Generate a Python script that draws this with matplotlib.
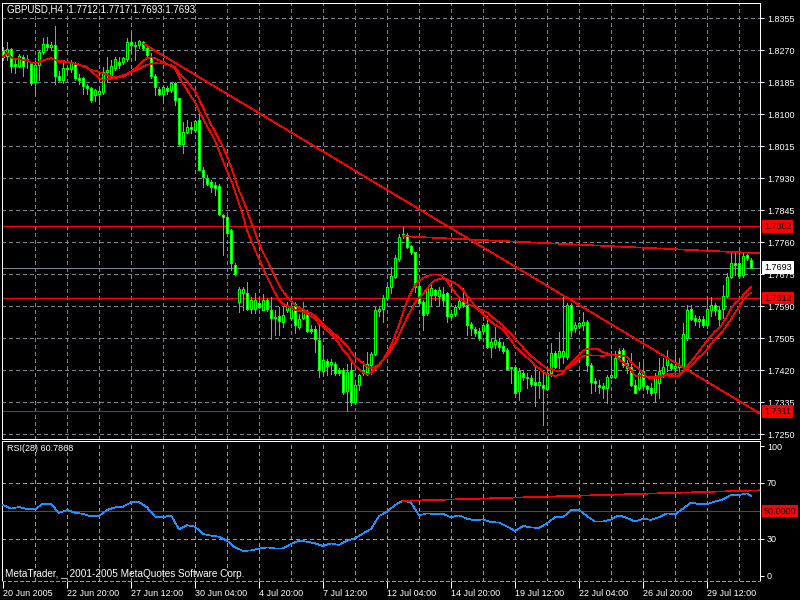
"""
GBPUSD H4 candlestick chart with moving averages, trendlines and RSI(28),
redrawn in the MetaTrader "green on black" style.
"""

import numpy as np
import pandas as pd
import matplotlib
matplotlib.use("Agg")
import matplotlib.pyplot as plt

plt.rcParams["font.family"] = ["Liberation Sans", "DejaVu Sans"]

# --- Data ------------------------------------------------------------------

OPEN = [
    1.8267, 1.8256, 1.8274, 1.8234, 1.8229, 1.8253, 1.8248, 1.8233, 1.8185, 1.8230,
    1.8265, 1.8288, 1.8280, 1.8285, 1.8203, 1.8192, 1.8224, 1.8220, 1.8235, 1.8197,
    1.8197, 1.8176, 1.8169, 1.8151, 1.8153, 1.8160, 1.8213, 1.8205, 1.8224, 1.8240,
    1.8238, 1.8247, 1.8291, 1.8285, 1.8283, 1.8293, 1.8275, 1.8253, 1.8203, 1.8168,
    1.8155, 1.8170, 1.8165, 1.8183, 1.8143, 1.8020, 1.8054, 1.8066, 1.8057, 1.8084,
    1.7951, 1.7930, 1.7920, 1.7911, 1.7909, 1.7832, 1.7826, 1.7792, 1.7701, 1.7602,
    1.7624, 1.7624, 1.7584, 1.7582, 1.7600, 1.7581, 1.7608, 1.7581, 1.7562, 1.7564,
    1.7548, 1.7581, 1.7560, 1.7597, 1.7535, 1.7560, 1.7578, 1.7531, 1.7531, 1.7500,
    1.7418, 1.7444, 1.7436, 1.7438, 1.7420, 1.7420, 1.7366, 1.7420, 1.7336, 1.7380,
    1.7413, 1.7416, 1.7433, 1.7463, 1.7578, 1.7582, 1.7611, 1.7640, 1.7667, 1.7715,
    1.7778, 1.7779, 1.7750, 1.7733, 1.7644, 1.7602, 1.7571, 1.7620, 1.7632, 1.7617,
    1.7623, 1.7625, 1.7563, 1.7570, 1.7587, 1.7602, 1.7594, 1.7543, 1.7529, 1.7525,
    1.7525, 1.7543, 1.7481, 1.7490, 1.7496, 1.7485, 1.7474, 1.7428, 1.7430, 1.7364,
    1.7414, 1.7403, 1.7399, 1.7390, 1.7381, 1.7381, 1.7370, 1.7412, 1.7465, 1.7456,
    1.7458, 1.7456, 1.7594, 1.7532, 1.7538, 1.7540, 1.7549, 1.7434, 1.7392, 1.7380,
    1.7377, 1.7372, 1.7403, 1.7403, 1.7472, 1.7474, 1.7439, 1.7430, 1.7381, 1.7372,
    1.7417, 1.7377, 1.7372, 1.7363, 1.7386, 1.7414, 1.7434, 1.7437, 1.7425, 1.7430,
    1.7430, 1.7505, 1.7582, 1.7558, 1.7551, 1.7556, 1.7540, 1.7579, 1.7594, 1.7580,
    1.7582, 1.7617, 1.7669, 1.7704, 1.7706, 1.7673, 1.7726, 1.7712,
]
HIGH = [
    1.8280, 1.8291, 1.8277, 1.8249, 1.8260, 1.8258, 1.8258, 1.8240, 1.8235, 1.8270,
    1.8302, 1.8306, 1.8293, 1.8335, 1.8216, 1.8237, 1.8230, 1.8243, 1.8238, 1.8208,
    1.8198, 1.8180, 1.8172, 1.8168, 1.8175, 1.8226, 1.8253, 1.8244, 1.8253, 1.8253,
    1.8253, 1.8302, 1.8318, 1.8293, 1.8297, 1.8295, 1.8280, 1.8262, 1.8207, 1.8172,
    1.8177, 1.8175, 1.8187, 1.8187, 1.8143, 1.8080, 1.8085, 1.8080, 1.8086, 1.8106,
    1.7960, 1.7938, 1.7925, 1.7920, 1.7914, 1.7836, 1.7832, 1.7794, 1.7704, 1.7642,
    1.7641, 1.7655, 1.7615, 1.7624, 1.7613, 1.7622, 1.7613, 1.7615, 1.7581, 1.7588,
    1.7588, 1.7601, 1.7613, 1.7602, 1.7570, 1.7602, 1.7581, 1.7540, 1.7537, 1.7540,
    1.7480, 1.7451, 1.7451, 1.7442, 1.7427, 1.7425, 1.7438, 1.7442, 1.7385, 1.7411,
    1.7446, 1.7469, 1.7469, 1.7588, 1.7591, 1.7620, 1.7647, 1.7695, 1.7726, 1.7782,
    1.7800, 1.7786, 1.7753, 1.7735, 1.7647, 1.7607, 1.7642, 1.7647, 1.7635, 1.7642,
    1.7642, 1.7629, 1.7574, 1.7593, 1.7609, 1.7638, 1.7620, 1.7549, 1.7536, 1.7532,
    1.7545, 1.7563, 1.7505, 1.7536, 1.7505, 1.7496, 1.7479, 1.7430, 1.7434, 1.7425,
    1.7421, 1.7412, 1.7408, 1.7430, 1.7417, 1.7412, 1.7430, 1.7492, 1.7470, 1.7523,
    1.7620, 1.7598, 1.7598, 1.7549, 1.7549, 1.7576, 1.7554, 1.7439, 1.7399, 1.7394,
    1.7386, 1.7408, 1.7470, 1.7470, 1.7479, 1.7479, 1.7448, 1.7465, 1.7394, 1.7443,
    1.7439, 1.7381, 1.7385, 1.7412, 1.7452, 1.7452, 1.7474, 1.7439, 1.7474, 1.7452,
    1.7545, 1.7594, 1.7594, 1.7567, 1.7563, 1.7563, 1.7611, 1.7614, 1.7598, 1.7591,
    1.7647, 1.7678, 1.7731, 1.7731, 1.7731, 1.7731, 1.7731, 1.7717,
]
LOW = [
    1.8244, 1.8244, 1.8213, 1.8209, 1.8226, 1.8203, 1.8222, 1.8178, 1.8156, 1.8190,
    1.8261, 1.8271, 1.8271, 1.8180, 1.8187, 1.8183, 1.8211, 1.8212, 1.8191, 1.8181,
    1.8155, 1.8155, 1.8132, 1.8136, 1.8127, 1.8155, 1.8187, 1.8200, 1.8218, 1.8222,
    1.8233, 1.8242, 1.8266, 1.8244, 1.8275, 1.8271, 1.8253, 1.8196, 1.8152, 1.8151,
    1.8133, 1.8155, 1.8160, 1.8125, 1.8018, 1.7996, 1.8050, 1.8050, 1.8053, 1.7951,
    1.7907, 1.7912, 1.7894, 1.7885, 1.7832, 1.7726, 1.7779, 1.7686, 1.7672, 1.7575,
    1.7580, 1.7580, 1.7572, 1.7571, 1.7585, 1.7579, 1.7578, 1.7504, 1.7513, 1.7513,
    1.7535, 1.7575, 1.7555, 1.7518, 1.7531, 1.7555, 1.7522, 1.7518, 1.7469, 1.7403,
    1.7407, 1.7407, 1.7411, 1.7407, 1.7407, 1.7358, 1.7313, 1.7327, 1.7332, 1.7367,
    1.7407, 1.7407, 1.7411, 1.7460, 1.7563, 1.7549, 1.7607, 1.7625, 1.7664, 1.7709,
    1.7771, 1.7744, 1.7729, 1.7629, 1.7596, 1.7527, 1.7567, 1.7591, 1.7607, 1.7594,
    1.7594, 1.7549, 1.7559, 1.7565, 1.7582, 1.7589, 1.7514, 1.7514, 1.7510, 1.7501,
    1.7518, 1.7478, 1.7456, 1.7479, 1.7474, 1.7465, 1.7421, 1.7386, 1.7359, 1.7341,
    1.7394, 1.7372, 1.7377, 1.7324, 1.7346, 1.7275, 1.7368, 1.7405, 1.7425, 1.7425,
    1.7440, 1.7450, 1.7510, 1.7523, 1.7532, 1.7527, 1.7417, 1.7359, 1.7366, 1.7359,
    1.7346, 1.7333, 1.7399, 1.7399, 1.7449, 1.7430, 1.7412, 1.7377, 1.7359, 1.7368,
    1.7372, 1.7359, 1.7355, 1.7337, 1.7346, 1.7403, 1.7417, 1.7421, 1.7417, 1.7408,
    1.7425, 1.7501, 1.7554, 1.7540, 1.7536, 1.7536, 1.7532, 1.7563, 1.7567, 1.7540,
    1.7558, 1.7614, 1.7664, 1.7673, 1.7667, 1.7669, 1.7713, 1.7693,
]
CLOSE = [
    1.8251, 1.8274, 1.8229, 1.8228, 1.8256, 1.8227, 1.8244, 1.8182, 1.8230, 1.8265,
    1.8288, 1.8280, 1.8285, 1.8203, 1.8192, 1.8224, 1.8220, 1.8235, 1.8197, 1.8190,
    1.8176, 1.8169, 1.8139, 1.8165, 1.8162, 1.8213, 1.8218, 1.8227, 1.8247, 1.8231,
    1.8249, 1.8291, 1.8284, 1.8282, 1.8295, 1.8275, 1.8258, 1.8203, 1.8172, 1.8153,
    1.8173, 1.8161, 1.8183, 1.8138, 1.8020, 1.8054, 1.8067, 1.8060, 1.8082, 1.7951,
    1.7934, 1.7916, 1.7907, 1.7903, 1.7834, 1.7827, 1.7785, 1.7704, 1.7675, 1.7637,
    1.7637, 1.7584, 1.7608, 1.7608, 1.7589, 1.7606, 1.7584, 1.7560, 1.7558, 1.7551,
    1.7566, 1.7592, 1.7592, 1.7540, 1.7557, 1.7580, 1.7525, 1.7525, 1.7502, 1.7420,
    1.7447, 1.7431, 1.7442, 1.7413, 1.7414, 1.7363, 1.7416, 1.7336, 1.7380, 1.7407,
    1.7420, 1.7438, 1.7462, 1.7579, 1.7582, 1.7611, 1.7642, 1.7671, 1.7717, 1.7775,
    1.7782, 1.7747, 1.7733, 1.7642, 1.7600, 1.7567, 1.7638, 1.7638, 1.7620, 1.7633,
    1.7607, 1.7563, 1.7570, 1.7587, 1.7605, 1.7594, 1.7541, 1.7532, 1.7520, 1.7505,
    1.7540, 1.7481, 1.7494, 1.7501, 1.7481, 1.7472, 1.7423, 1.7425, 1.7361, 1.7417,
    1.7402, 1.7399, 1.7384, 1.7381, 1.7390, 1.7372, 1.7412, 1.7465, 1.7430, 1.7470,
    1.7470, 1.7594, 1.7527, 1.7540, 1.7545, 1.7549, 1.7434, 1.7390, 1.7386, 1.7375,
    1.7372, 1.7403, 1.7408, 1.7452, 1.7456, 1.7434, 1.7425, 1.7381, 1.7361, 1.7412,
    1.7379, 1.7370, 1.7361, 1.7403, 1.7417, 1.7430, 1.7456, 1.7425, 1.7432, 1.7434,
    1.7517, 1.7580, 1.7556, 1.7551, 1.7556, 1.7540, 1.7582, 1.7594, 1.7580, 1.7556,
    1.7617, 1.7667, 1.7706, 1.7700, 1.7671, 1.7724, 1.7717, 1.7693,
]

# RSI(28), read every second bar, plus the last bar
RSI_EVERY_2 = [
    54.3, 51.7, 52.9, 51.4, 51.2, 55.2, 55.0, 48.6, 50.7, 48.8,
    47.9, 46.2, 46.4, 50.7, 52.6, 53.1, 56.2, 56.4, 52.6, 46.0,
    45.5, 46.9, 36.9, 39.8, 38.8, 33.6, 32.4, 31.7, 28.8, 24.0,
    21.5, 21.8, 23.1, 24.0, 23.3, 23.3, 26.4, 28.8, 28.1, 26.9,
    25.0, 26.9, 25.7, 28.8, 30.5, 34.0, 37.1, 46.4, 49.5, 54.3,
    57.4, 56.0, 46.9, 48.3, 47.9, 47.9, 45.5, 46.9, 44.5, 43.3,
    44.0, 42.1, 41.7, 39.0, 35.7, 39.3, 38.3, 37.9, 41.2, 45.5,
    45.5, 50.7, 50.7, 46.4, 42.4, 42.4, 44.0, 46.9, 45.0, 42.4,
    44.5, 43.6, 45.5, 48.3, 47.6, 51.7, 56.0, 55.0, 55.0, 56.7,
    58.3, 61.4, 61.4, 62.6,
]
RSI_LAST = 60.7868

MA_FAST = 13
MA_SLOW = 16

PRICE_TICKS = [1.8355, 1.8270, 1.8185, 1.8100, 1.8015, 1.7930, 1.7845,
               1.7760, 1.7675, 1.7590, 1.7505, 1.7420, 1.7335, 1.7250]
DATE_LABELS = ["20 Jun 2005", "22 Jun 20:00", "27 Jun 12:00", "30 Jun 04:00",
               "4 Jul 20:00", "7 Jul 12:00", "12 Jul 04:00", "14 Jul 20:00",
               "19 Jul 12:00", "22 Jul 04:00", "26 Jul 20:00", "29 Jul 12:00"]
BARS_PER_LABEL = 16

LEVELS = [1.7802, 1.7612, 1.7311]
BID = 1.7693

# trendlines: two anchor points (bar, value), drawn as rays to the right
TREND_DOWN = [(35, 1.8288), (140, 1.7619)]
TREND_TOP = [(100, 1.7776), (185, 1.7733)]
TREND_RSI = [(100, 57.2), (186, 64.5)]

# --- Style -----------------------------------------------------------------

LIME = "#00ff00"
RED = "#ff0000"
GRID = "#778899"
RSI_GRID = "#9a9aa0"
RSI_BLUE = "#1e90ff"
PX = 0.72          # one pixel in points at 100 dpi
THIN = 0.5         # for aliased diagonal / curved lines
DASH = (0, (4, 4))
FS = 6.5


def ray(ax, pts, xmax, **kw):
    (x0, y0), (x1, y1) = pts
    yend = y0 + (y1 - y0) / (x1 - x0) * (xmax - x0)
    ax.plot([x0, xmax], [y0, yend], **kw)


def axis_tag(ax, y, text, fc, tc):
    ax.text(1.0 + 4 / 758, y, text, transform=ax.get_yaxis_transform(),
            ha="left", va="center", fontsize=FS, color=tc, clip_on=False,
            zorder=10, bbox=dict(boxstyle="square,pad=0.22", fc=fc, ec="none"))


def style_axes(ax):
    ax.set_facecolor("black")
    for s in ax.spines.values():
        s.set_color("white")
        s.set_linewidth(PX)
    ax.yaxis.tick_right()
    ax.tick_params(axis="y", colors="white", labelcolor="white", length=3,
                   width=PX, pad=2, labelsize=FS)


def main():
    fig = plt.figure(figsize=(8, 6), dpi=100, facecolor="black")
    ax = fig.add_axes([2 / 800, 161 / 600, 758 / 800, 436 / 600])
    rsi_ax = fig.add_axes([2 / 800, 19 / 600, 758 / 800, 140 / 600])

    n = len(CLOSE)
    xmin, xmax = -0.25, 189.25
    idx = np.arange(n)
    o, h, l, c = map(np.asarray, (OPEN, HIGH, LOW, CLOSE))

    # ---- main window ----
    style_axes(ax)
    ax.set_xlim(xmin, xmax)
    ax.set_ylim(1.72375, 1.83956)
    ax.set_xticks([])
    ax.set_yticks(PRICE_TICKS)
    ax.set_yticklabels([f"{p:.4f}" for p in PRICE_TICKS])

    for p in PRICE_TICKS:
        ax.axhline(p, color=GRID, lw=PX, ls=DASH, zorder=0, antialiased=False)
    for xg in range(8, 189, 8):
        ax.axvline(xg, color=GRID, lw=PX, ls=DASH, zorder=0, antialiased=False)

    ax.vlines(idx, l, h, color=LIME, lw=PX, zorder=3, antialiased=False)
    bull = c >= o
    ax.bar(idx, np.abs(c - o), bottom=np.minimum(o, c), width=0.5,
           color=np.where(bull, "black", "white"), edgecolor=LIME,
           linewidth=PX, zorder=4, antialiased=False)

    close = pd.Series(CLOSE)
    for period in (MA_FAST, MA_SLOW):
        ma = close.rolling(period, min_periods=1).mean()
        ax.plot(idx, ma, color=RED, lw=THIN, zorder=5, antialiased=False)

    for lv in LEVELS:
        ax.axhline(lv, color=RED, lw=PX, zorder=2, antialiased=False)
        axis_tag(ax, lv, f"{lv:.4f}", RED, "black")
    ax.axhline(BID, color=GRID, lw=PX, zorder=2, antialiased=False)
    axis_tag(ax, BID, f"{BID:.4f}", "white", "black")

    ray(ax, TREND_DOWN, xmax, color=RED, lw=THIN, zorder=5, antialiased=False)
    ray(ax, TREND_TOP, xmax, color=RED, lw=THIN, zorder=5, antialiased=False)

    ax.text(5 / 758, 1 - 2 / 436, "GBPUSD,H4  1.7712 1.7717 1.7693 1.7693",
            transform=ax.transAxes, ha="left", va="top", color="white",
            fontsize=7, zorder=11)

    # ---- RSI window ----
    style_axes(rsi_ax)
    rsi_ax.spines["bottom"].set_linestyle((0, (3, 3)))
    rsi_ax.spines["bottom"].set_color(RSI_GRID)
    rsi_ax.set_xlim(xmin, xmax)
    rsi_ax.set_ylim(0, 100)
    rsi_ax.set_yticks([3.8, 30, 70, 96.4])
    rsi_ax.set_yticklabels(["0", "30", "70", "100"])

    tick_pos = np.arange(len(DATE_LABELS)) * BARS_PER_LABEL
    rsi_ax.set_xticks(tick_pos)
    rsi_ax.set_xticklabels(DATE_LABELS)
    rsi_ax.tick_params(axis="x", colors="white", labelcolor="white", length=5,
                       width=PX, pad=1, labelsize=FS)
    for lab in rsi_ax.get_xticklabels():
        lab.set_horizontalalignment("left")

    for xg in range(8, 189, 8):
        rsi_ax.axvline(xg, color=RSI_GRID, lw=PX, ls=DASH, zorder=0,
                       antialiased=False)
    for lv in (30, 70):
        rsi_ax.axhline(lv, color=RSI_GRID, lw=PX, ls=DASH, zorder=0,
                       antialiased=False)
    rsi_ax.axhline(50, color=RED, lw=PX, zorder=2, antialiased=False)
    axis_tag(rsi_ax, 50, "50.0000", RED, "black")

    rsi_x = np.r_[np.arange(len(RSI_EVERY_2)) * 2, n - 1]
    rsi_y = np.r_[RSI_EVERY_2, RSI_LAST]
    rsi_ax.plot(rsi_x, rsi_y, color=RSI_BLUE, lw=THIN, zorder=4,
                antialiased=False)
    ray(rsi_ax, TREND_RSI, xmax, color=RED, lw=THIN, zorder=5,
        antialiased=False)

    rsi_ax.text(5 / 758, 1 - 3 / 140, f"RSI(28) {RSI_LAST:.4f}",
                transform=rsi_ax.transAxes, ha="left", va="top",
                color="white", fontsize=FS)
    rsi_ax.text(3 / 758, 4 / 140,
                "MetaTrader, _ 2001-2005 MetaQuotes Software Corp.",
                transform=rsi_ax.transAxes, ha="left", va="baseline",
                color="white", fontsize=7.2)

    fig.savefig("out.png", dpi=100, facecolor="black")
    plt.close(fig)


if __name__ == "__main__":
    main()
